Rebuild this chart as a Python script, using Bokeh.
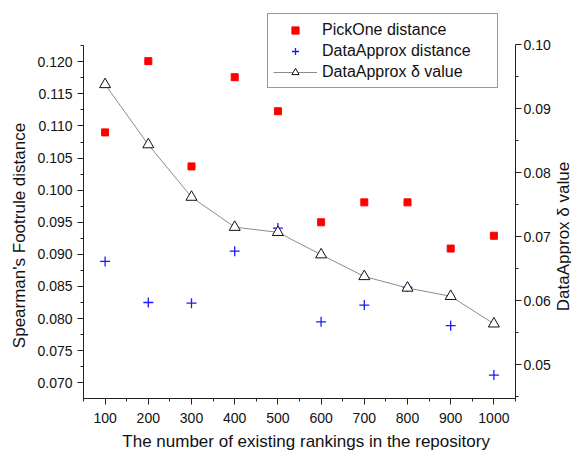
import math
from bokeh.plotting import figure
from bokeh.layouts import row, column
from bokeh.core.properties import value
from bokeh.models import (LinearAxis, Range1d, FixedTicker, SingleIntervalTicker, PrintfTickFormatter,
                          Legend, LegendItem, ColumnDataSource)
from bokeh.embed import file_html
from bokeh.resources import INLINE

x = [100, 200, 300, 400, 500, 600, 700, 800, 900, 1000]
pickone = [0.1090, 0.1201, 0.1037, 0.1176, 0.1123, 0.0950, 0.0981, 0.0981, 0.0909, 0.0929]
dataapprox = [0.0889, 0.0825, 0.0824, 0.0905, 0.0941, 0.0795, 0.0821, 0.0849, 0.0789, 0.0712]
delta = [0.0938, 0.0844, 0.0762, 0.0715, 0.0707, 0.0672, 0.0638, 0.0620, 0.0607, 0.0564]

left_ticks = [0.070, 0.075, 0.080, 0.085, 0.090, 0.095, 0.100, 0.105, 0.110, 0.115, 0.120]
left_minor = [0.0725, 0.0775, 0.0825, 0.0875, 0.0925, 0.0975, 0.1025, 0.1075, 0.1125, 0.1175, 0.1225]
right_ticks = [0.05, 0.06, 0.07, 0.08, 0.09, 0.10]
right_minor = [0.045, 0.055, 0.065, 0.075, 0.085, 0.095]

left_title = "Spearman's Footrule distance"
right_title = "DataApprox δ value"
x_title = "The number of existing rankings in the repository"

FONT = "Liberation Sans"
TXT = "#111111"

p = figure(width=523, height=428, output_backend="svg", toolbar_location=None,
           x_range=Range1d(50, 1050), y_range=Range1d(0.06755, 0.12783),
           min_border_left=53, min_border_right=38, min_border_top=11, min_border_bottom=30)
p.extra_y_ranges = {"right": Range1d(0.04473, 0.1052)}
p.outline_line_color = None
p.xgrid.visible = False
p.ygrid.visible = False
p.background_fill_color = "white"
p.border_fill_color = "white"

def style(ax):
    ax.axis_line_color = "#222222"
    ax.major_tick_line_color = "#222222"
    ax.minor_tick_line_color = "#222222"
    ax.major_tick_out = 6
    ax.major_tick_in = 0
    ax.minor_tick_out = 3
    ax.minor_tick_in = 0
    ax.major_label_text_font = FONT
    ax.major_label_text_font_size = "14px"
    ax.major_label_text_color = TXT

xa = p.xaxis[0]
xa.ticker = SingleIntervalTicker(interval=100, num_minor_ticks=2)
style(xa)
xa.major_label_standoff = 8

ya = p.yaxis[0]
ya.ticker = FixedTicker(ticks=left_ticks, minor_ticks=left_minor)
ya.formatter = PrintfTickFormatter(format="%.3f")
ya.bounds = (0.06755, 0.1225)
style(ya)
ya.major_label_standoff = 5

ra = LinearAxis(y_range_name="right")
ra.ticker = FixedTicker(ticks=right_ticks, minor_ticks=right_minor)
ra.formatter = PrintfTickFormatter(format="%.2f")
ra.bounds = (0.04473, 0.1001)
style(ra)
ra.major_label_standoff = 2
p.add_layout(ra, "right")

src = ColumnDataSource(dict(x=x, pickone=pickone, dataapprox=dataapprox, delta=delta))

r_sq = p.scatter("x", "pickone", source=src, marker="square", size=7,
                 fill_color="#ff0000", line_color="#ff0000")
r_cr = p.scatter("x", "dataapprox", source=src, marker="cross", size=10,
                 line_color="#1a1aff", line_width=1.3)
r_ln = p.line("x", "delta", source=src, y_range_name="right", line_color="#8c8c8c", line_width=1)
r_tr = p.scatter("x", "delta", source=src, y_range_name="right", marker="triangle", size=11,
                 fill_color="white", line_color="#111111", line_width=1)

legend = Legend(items=[
    LegendItem(label="PickOne distance", renderers=[r_sq]),
    LegendItem(label="DataApprox distance", renderers=[r_cr]),
    LegendItem(label="DataApprox δ value", renderers=[r_ln, r_tr]),
], location=(184, 310))
legend.label_text_font = FONT
legend.label_text_font_size = "16px"
legend.label_text_color = TXT
legend.glyph_width = 44
legend.glyph_height = 18
legend.label_height = 21
legend.spacing = 0
legend.padding = 5
legend.margin = 0
legend.label_standoff = 5
legend.label_width = 170
legend.border_line_color = "#333333"
legend.border_line_width = 1
legend.background_fill_alpha = 1
p.add_layout(legend, "center")

def label_fig(w, h, cx, cy, text, angle):
    f = figure(width=w, height=h, output_backend="svg", toolbar_location=None,
               x_range=Range1d(0, w), y_range=Range1d(h, 0),
               min_border_left=0, min_border_right=0, min_border_top=0, min_border_bottom=0)
    f.axis.visible = False
    f.grid.visible = False
    f.outline_line_color = None
    f.background_fill_color = "white"
    f.border_fill_color = "white"
    f.text(x=[cx], y=[cy], text=[text], angle=angle, text_align="center",
           text_baseline="middle", text_font=value(FONT), text_font_size="17px", text_color=TXT)
    return f

fl = label_fig(30, 451, 18.5, 235, left_title, math.pi / 2)
fr = label_fig(18, 451, 9.5, 236, right_title, math.pi / 2)
fb = label_fig(523, 23, 269.5, 13, x_title, 0)

layout = row(fl, column(p, fb, spacing=0), fr, spacing=0)
open("out.html", "w").write(file_html(layout, INLINE))
